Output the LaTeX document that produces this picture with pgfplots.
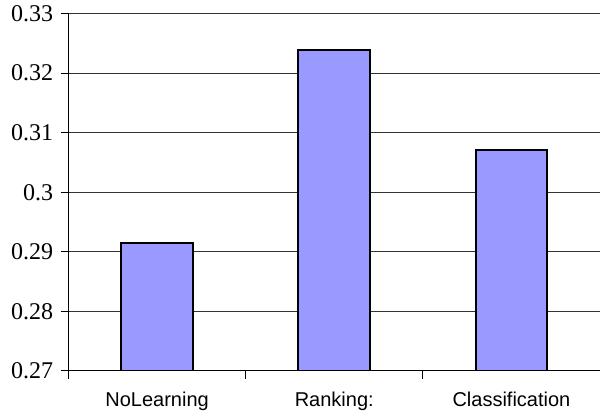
\documentclass[border=0pt]{standalone}
\usepackage{fontspec}
\setmainfont{Liberation Serif}
\newfontfamily\arial{Liberation Sans}
\usepackage{pgfplots}
\pgfplotsset{compat=1.18}
\definecolor{barblue}{HTML}{9999FF}
\begin{document}
\begin{tikzpicture}
\useasboundingbox (-51.4pt,-33.75pt) rectangle (398.6pt,278.25pt);
\begin{axis}[
  at={(0,0)}, anchor=south west,
  scale only axis, width=398.6pt, height=268.1pt,
  xmin=-0.5, xmax=2.5, ymin=0.27, ymax=0.33,
  axis x line*=bottom, axis y line*=left,
  axis line style={black, line width=0.75pt, -},
  ytick={0.27,0.28,0.29,0.30,0.31,0.32,0.33},
  ymajorgrids, grid style={black!80, line width=0.75pt},
  xtick={-0.5,0.5,1.5,2.5}, xticklabels={},
  extra x ticks={0,1,2},
  extra x tick labels={NoLearning,Ranking:,Classification},
  extra x tick style={major tick length=0pt, grid=none,
     xticklabel style={font=\arial\fontsize{15}{18}\selectfont, yshift=-12pt}},
  tick align=outside, major tick length=6pt,
  tick style={black, line width=0.75pt},
  /pgf/number format/assume math mode=true,
  yticklabel style={font=\fontsize{18}{21}\selectfont, xshift=-2pt,
     /pgf/number format/fixed, /pgf/number format/precision=2},
]
\addplot[ybar, bar width=0.405, fill=barblue, draw=black, line width=1.5pt]
  coordinates {(0,0.2914) (1,0.3238) (2,0.3071)};
\end{axis}
\end{tikzpicture}
\end{document}
